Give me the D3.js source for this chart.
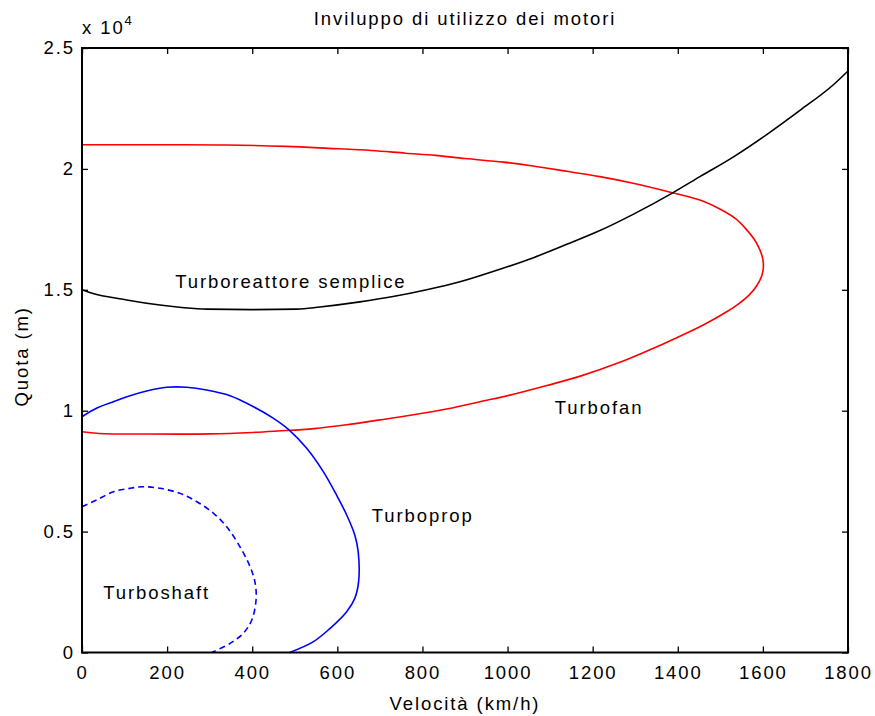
<!DOCTYPE html>
<html>
<head>
<meta charset="utf-8">
<script src="https://cdn.jsdelivr.net/npm/d3@7"></script>
<style>
  html, body { margin: 0; padding: 0; background: #fff; }
  svg { display: block; }
  text { font-family: "Liberation Sans", Arial, Helvetica, sans-serif; fill: #000; }
</style>
</head>
<body>
<svg id="chart" width="875" height="716"></svg>
<script>
// Axis ticks
const xTicks = [0, 200, 400, 600, 800, 1000, 1200, 1400, 1600, 1800];
const yTicks = [0, 5000, 10000, 15000, 20000, 25000];
const yTickLabels = ["0", "0.5", "1", "1.5", "2", "2.5"];

// Turboreattore semplice (velocità km/h, quota m)
const turboreattoreV = [0, 20, 105, 183, 240, 293, 400, 505, 559, 653, 731, 810, 888, 982, 1061, 1139, 1217, 1295, 1387, 1452, 1531, 1609, 1687, 1765, 1800];
const turboreattoreH = [15000, 14880, 14580, 14370, 14260, 14200, 14180, 14200, 14290, 14500, 14720, 15000, 15330, 15850, 16330, 16880, 17450, 18120, 19000, 19680, 20500, 21420, 22420, 23470, 24050];

// Turbofan envelope (upper branch out, lower branch back)
const turbofanV = [0, 200, 340, 480, 580, 680, 760, 830, 900, 990, 1060, 1139, 1217, 1295, 1387, 1452, 1500, 1535, 1560, 1580, 1593, 1600, 1601, 1597, 1586, 1568, 1543, 1512, 1472, 1420, 1358, 1264, 1171, 1092, 1014, 935, 860, 779, 700, 622, 545, 460, 400, 300, 150, 40, 0];
const turbofanH = [21000, 21000, 20990, 20930, 20850, 20760, 20650, 20560, 20430, 20280, 20120, 19900, 19680, 19405, 19016, 18714, 18330, 17950, 17520, 17080, 16650, 16250, 15900, 15560, 15180, 14790, 14420, 14060, 13660, 13200, 12700, 12000, 11430, 11040, 10680, 10370, 10080, 9830, 9620, 9420, 9260, 9160, 9100, 9040, 9036, 9060, 9130];

// Turboprop envelope
const turbopropV = [0, 34, 74, 113, 152, 199, 246, 293, 348, 403, 450, 485, 528, 567, 598, 622, 641, 649, 650, 641, 622, 583, 544, 488];
const turbopropH = [9750, 10100, 10370, 10620, 10815, 10970, 10970, 10856, 10620, 10165, 9685, 9230, 8445, 7478, 6514, 5687, 4860, 4170, 2928, 2240, 1690, 1000, 450, 0];

// Turboshaft envelope
const turboshaftV = [0, 34, 74, 113, 144, 183, 230, 270, 309, 340, 371, 395, 407, 409, 399, 379, 348, 305];
const turboshaftH = [6030, 6307, 6650, 6790, 6857, 6790, 6584, 6237, 5757, 5200, 4375, 3548, 2860, 2170, 1344, 794, 380, 0];

const svg = d3.select("#chart");
const plotLeft = 82, plotRight = 848, plotTop = 48, plotBottom = 652.5;
const fs = 18.5, ls = 1.9;

const x = d3.scaleLinear().domain([0, 1800]).range([plotLeft, plotRight]);
const y = d3.scaleLinear().domain([0, 25000]).range([plotBottom, plotTop]);

const zip = (vs, hs) => vs.map((v, i) => [v, hs[i]]);

// Curves
const lineFn = d3.line().x(d => x(d[0])).y(d => y(d[1])).curve(d3.curveCatmullRom.alpha(0.5));
const lineMono = d3.line().x(d => x(d[0])).y(d => y(d[1])).curve(d3.curveMonotoneX);

const plot = svg.append("g").attr("fill", "none").attr("stroke-width", 1.6).attr("stroke-linejoin", "round");
plot.append("path").attr("d", lineFn(zip(turbofanV, turbofanH))).attr("stroke", "#ff0000");
plot.append("path").attr("d", lineMono(zip(turboreattoreV, turboreattoreH))).attr("stroke", "#000");
plot.append("path").attr("d", lineFn(zip(turbopropV, turbopropH))).attr("stroke", "#0000ff");
plot.append("path").attr("d", lineFn(zip(turboshaftV, turboshaftH))).attr("stroke", "#0000ff").attr("stroke-dasharray", "6,4");

// Axes with inward ticks on all four sides
function styleAxis(g) {
  g.select(".domain").remove();
  g.selectAll(".tick line").attr("stroke", "#000").attr("stroke-width", 1.3);
  g.selectAll(".tick text").attr("font-size", fs).attr("letter-spacing", ls + "px").attr("fill", "#000");
}
svg.append("g").attr("transform", `translate(0,${plotBottom})`)
  .call(d3.axisBottom(x).tickValues(xTicks).tickSizeInner(-6).tickSizeOuter(0).tickPadding(13).tickFormat(d3.format("d")))
  .call(styleAxis);
svg.append("g").attr("transform", `translate(0,${plotTop})`)
  .call(d3.axisTop(x).tickValues(xTicks).tickSizeInner(-6).tickSizeOuter(0).tickFormat(""))
  .call(styleAxis);
svg.append("g").attr("transform", `translate(${plotLeft},0)`)
  .call(d3.axisLeft(y).tickValues(yTicks).tickSizeInner(-6).tickSizeOuter(0).tickPadding(7)
    .tickFormat((d, i) => yTickLabels[i]))
  .call(styleAxis);
svg.append("g").attr("transform", `translate(${plotRight},0)`)
  .call(d3.axisRight(y).tickValues(yTicks).tickSizeInner(-6).tickSizeOuter(0).tickFormat(""))
  .call(styleAxis);
svg.selectAll("g[font-family]").attr("font-family", null);

// Frame
svg.append("rect").attr("x", plotLeft).attr("y", plotTop).attr("width", plotRight - plotLeft).attr("height", plotBottom - plotTop)
  .attr("fill", "none").attr("stroke", "#000").attr("stroke-width", 2);

// Titles
svg.append("text").attr("x", (plotLeft + plotRight) / 2).attr("y", 25).attr("text-anchor", "middle")
  .attr("font-size", fs).attr("letter-spacing", ls + "px").text("Inviluppo di utilizzo dei motori");
svg.append("text").attr("x", (plotLeft + plotRight) / 2).attr("y", 710).attr("text-anchor", "middle")
  .attr("font-size", fs).attr("letter-spacing", ls + "px").text("Velocità (km/h)");
svg.append("text").attr("transform", `translate(28,${(plotTop + plotBottom) / 2 + 6}) rotate(-90)`).attr("text-anchor", "middle")
  .attr("font-size", fs).attr("letter-spacing", ls + "px").text("Quota (m)");

// Exponent marker
const expo = svg.append("text").attr("x", 82).attr("y", 33.5).attr("font-size", fs).attr("letter-spacing", ls + "px");
expo.append("tspan").text("x 10");
expo.append("tspan").attr("dy", -9).attr("font-size", 13).text("4");

// Curve annotations
const labelText = ["Turboreattore semplice", "Turbofan", "Turboprop", "Turboshaft"];
const labelV = [219, 1111, 681, 50];
const labelH = [15070, 9863, 5397, 2200];
svg.append("g").selectAll("text").data(labelText).join("text")
  .attr("x", (d, i) => x(labelV[i])).attr("y", (d, i) => y(labelH[i]))
  .attr("font-size", fs).attr("letter-spacing", ls + "px").text(d => d);
</script>
</body>
</html>
